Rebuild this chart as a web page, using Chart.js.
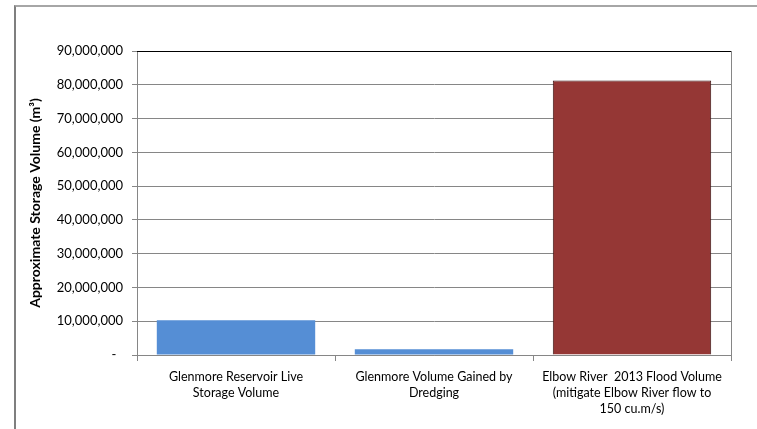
<!DOCTYPE html>
<html>
<head>
<meta charset="utf-8">
<script src="https://cdn.jsdelivr.net/npm/chart.js@4"></script>
<style>
  html, body { margin: 0; padding: 0; background: #fff; }
  #wrap { position: relative; width: 757px; height: 429px; overflow: hidden; }
  #frame { position: absolute; left: 14px; top: 5px; width: 800px; height: 500px;
           border-left: 2px solid #7f7f7f; border-top: 2px solid #a6a6a6; }
  canvas { position: absolute; left: 0; top: 0; }
</style>
</head>
<body>
<div id="wrap">
  <div id="frame"></div>
  <canvas id="chart" width="757" height="429"></canvas>
</div>
<script>
const categories = [
  ['Glenmore Reservoir Live', 'Storage Volume'],
  ['Glenmore Volume Gained by', 'Dredging'],
  ['Elbow River  2013 Flood Volume', '(mitigate Elbow River flow to', '150 cu.m/s)']
]
const volumes = [10300000, 1700000, 81300000]
const barColors = ['#558ed5', '#558ed5', '#953735']
const barBorders = ['#558ed5', '#558ed5', '#3b1514']
const yMax = 90000000
const yStep = 10000000

const font = "Lato, 'Open Sans', sans-serif"

// plot area frame: black top, grey right side
const plotFrame = {
  id: 'plotFrame',
  afterDraw(chart) {
    const a = chart.chartArea
    const ctx = chart.ctx
    ctx.save()
    ctx.lineWidth = 1
    ctx.strokeStyle = '#868686'
    ctx.beginPath()
    ctx.moveTo(Math.round(a.right) + 0.5, a.top)
    ctx.lineTo(Math.round(a.right) + 0.5, a.bottom)
    ctx.stroke()
    ctx.strokeStyle = '#000'
    ctx.beginPath()
    ctx.moveTo(a.left, Math.round(a.top) + 0.5)
    ctx.lineTo(a.right, Math.round(a.top) + 0.5)
    ctx.stroke()
    ctx.restore()
  }
}

new Chart(document.getElementById('chart'), {
  type: 'bar',
  data: {
    labels: categories,
    datasets: [{
      data: volumes,
      backgroundColor: barColors,
      borderColor: barBorders,
      borderWidth: [0, 0, 1],
      barPercentage: 0.8,
      categoryPercentage: 1.0
    }]
  },
  options: {
    responsive: false,
    animation: false,
    layout: { padding: { left: 0, top: 51, right: 26, bottom: 0 } },
    plugins: { legend: { display: false }, tooltip: { enabled: false } },
    scales: {
      x: {
        afterFit: (s) => { s.height = 74 },
        grid: { offset: true, drawOnChartArea: false, drawTicks: true, tickLength: 6, color: '#868686' },
        border: { display: true, color: '#868686' },
        ticks: { color: '#000', padding: 8, maxRotation: 0, autoSkip: false,
                 font: { family: font, size: 12.5, lineHeight: 1.28 } }
      },
      y: {
        min: 0,
        max: yMax,
        afterFit: (s) => { s.width = 137 },
        title: {
          display: true,
          text: 'Approximate Storage Volume (m³)',
          color: '#000',
          font: { family: font, size: 14, weight: 'bold' },
          padding: { top: 27, bottom: 4 }
        },
        grid: { color: '#868686', tickLength: 5 },
        border: { display: true, color: '#868686' },
        ticks: {
          stepSize: yStep,
          color: '#000',
          padding: 9,
          font: { family: font, size: 13 },
          callback: (v) => v === 0 ? '-  ' : v.toLocaleString('en-US')
        }
      }
    }
  },
  plugins: [plotFrame]
});
</script>
</body>
</html>
